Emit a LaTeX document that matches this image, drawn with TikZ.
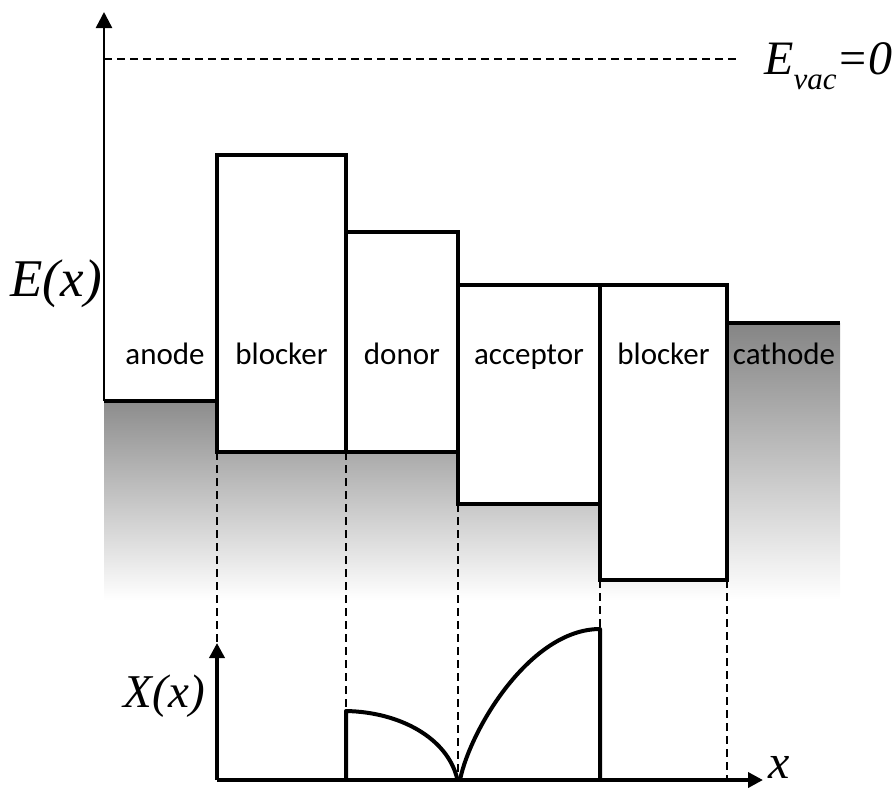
\documentclass[tikz,border=0pt]{standalone}
\usepackage{fontspec}
\newfontfamily\lblfont{Carlito}
\newfontfamily\mathfont{Liberation Serif}
\usetikzlibrary{arrows.meta}
\tikzset{
  box/.style={line width=4.8pt, fill=white, line join=miter},
  level/.style={line width=4.8pt},
  axis/.style={line width=2.5pt, -{Triangle[length=16pt,width=16pt]}},
  baxis/.style={line width=3.6pt, -{Triangle[length=15pt,width=15pt]}},
  guide/.style={line width=1.8pt, dash pattern=on 8pt off 5pt},
  curve/.style={line width=4pt, line join=round},
  lbl/.style={font=\lblfont\fontsize{31}{31}\selectfont, inner sep=0pt, anchor=base},
  mlbl/.style={inner sep=0pt}
}
\begin{document}
\begin{tikzpicture}[x=1pt,y=-1pt]
\useasboundingbox (0,0) rectangle (896,788);
% shading
\shade[top color=black!45, bottom color=white] (104,401) rectangle (727,600);
\shade[top color=black!48, bottom color=white] (727,323) rectangle (840,600);
% coordinates
\coordinate (Eorig) at (104,401);
\coordinate (Etop) at (104,12);
\coordinate (vacL) at (104,59);
\coordinate (vacR) at (740,59);
\coordinate (anR) at (217,401);
\coordinate (caL) at (727,323);
\coordinate (caR) at (840,323);
\coordinate (b1b) at (217,452);
\coordinate (dob) at (346,452);
\coordinate (acb) at (458,504);
\coordinate (b2l) at (600,580);
\coordinate (b2r) at (727,580);
\coordinate (Xorig) at (217,780);
\coordinate (Xtop) at (217,643);
\coordinate (Xend) at (763,780);
\coordinate (d0) at (346,780);
\coordinate (d1) at (346,711);
\coordinate (d2) at (457,778);
\coordinate (a0) at (460,780);
\coordinate (a1) at (600,629);
\coordinate (a2) at (600,780);
\coordinate (x458) at (458,780);
\coordinate (x727) at (727,780);
% levels
\draw[level] (Eorig) -- (anR);
\draw[level] (caL) -- (caR);
% boxes
\draw[box] (217,155) rectangle (346,452);
\draw[box] (346,232) rectangle (458,452);
\draw[box] (458,285) rectangle (600,504);
\draw[box] (600,285) rectangle (727,580);
% labels
\node[lbl] (tan) at (165,364) {anode};
\node[lbl] (tb1) at (281.5,364) {blocker};
\node[lbl] (tdo) at (402,364) {donor};
\node[lbl] (tac) at (529,364) {acceptor};
\node[lbl] (tb2) at (663.5,364) {blocker};
\node[lbl] (tca) at (784,364) {cathode};
% top axis
\draw[axis] (Eorig) -- (Etop);
\draw[guide] (vacL) -- (vacR);
\node[mlbl, anchor=base east] (Elab) at (102,296) {\mathfont\itshape\fontsize{53}{53}\selectfont E(x)};
\node[mlbl, anchor=base west] (Evac) at (764,74) {\mathfont\itshape\fontsize{48}{48}\selectfont E\raisebox{-15pt}{\fontsize{31}{31}\selectfont vac}=0};
% guides
\draw[guide] (b1b) -- (Xtop);
\draw[guide] (dob) -- (d1);
\draw[guide] (acb) -- (x458);
\draw[guide] (b2l) -- (a1);
\draw[guide] (b2r) -- (x727);
% bottom axis
\draw[baxis] (Xorig) -- (Xtop);
\draw[baxis] (Xorig) -- (Xend);
\node[mlbl, anchor=base east] (Xlab) at (205,707) {\mathfont\itshape\fontsize{47}{47}\selectfont X(x)};
\node[mlbl, anchor=base west] (xlab) at (768,778) {\mathfont\itshape\fontsize{48}{48}\selectfont x};
% field curves
\draw[curve] (d0) -- (d1) .. controls (400,712) and (447,738) .. (d2);
\draw[curve] (a0) .. controls (470,730) and (530,629) .. (a1) -- (a2);
\end{tikzpicture}
\end{document}
